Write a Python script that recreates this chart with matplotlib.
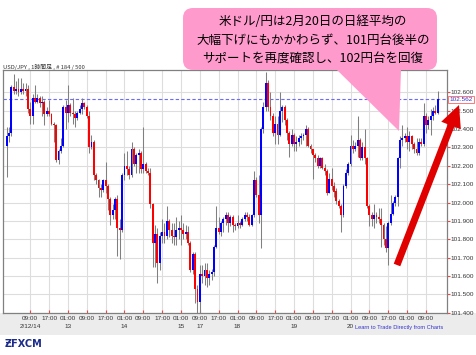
import matplotlib
matplotlib.use("Agg")
import matplotlib.pyplot as plt
import matplotlib.patches as mpatches
from matplotlib.transforms import blended_transform_factory
import numpy as np

# ---------------- data (1-hour USD/JPY candles, 184 bars) ----------------
opens = [102.31, 102.36, 102.38, 102.63, 102.61, 102.62, 102.60, 102.62, 102.61, 102.62,
         102.51, 102.47, 102.57, 102.55, 102.57, 102.54, 102.55, 102.48, 102.50, 102.48,
         102.43, 102.42, 102.23, 102.28, 102.31, 102.52, 102.49, 102.53, 102.49, 102.48,
         102.46, 102.49, 102.51, 102.54, 102.52, 102.47, 102.30, 102.33, 102.15, 102.12,
         102.08, 102.07, 102.12, 102.09, 102.02, 101.93, 101.96, 102.02, 101.86, 101.85,
         102.15, 102.20, 102.18, 102.15, 102.29, 102.21, 102.26, 102.27, 102.18, 102.21,
         102.17, 102.16, 101.99, 101.78, 101.83, 101.67, 101.82, 101.84, 101.82, 101.90,
         101.85, 101.82, 101.81, 101.85, 101.86, 101.85, 101.83, 101.84, 101.78, 101.63,
         101.72, 101.53, 101.46, 101.61, 101.60, 101.63, 101.59, 101.61, 101.62, 101.76,
         101.86, 101.84, 101.89, 101.91, 101.93, 101.89, 101.92, 101.88, 101.87, 101.89,
         101.88, 101.91, 101.93, 101.92, 101.88, 101.93, 102.12, 102.04, 101.93, 102.40,
         102.52, 102.65, 102.52, 102.47, 102.38, 102.43, 102.37, 102.50, 102.52, 102.45,
         102.38, 102.32, 102.37, 102.32, 102.33, 102.35, 102.36, 102.37, 102.40, 102.31,
         102.29, 102.26, 102.24, 102.20, 102.24, 102.19, 102.17, 102.05, 102.13, 102.09,
         102.06, 102.01, 101.98, 101.93, 102.09, 102.16, 102.21, 102.31, 102.29, 102.31,
         102.34, 102.24, 102.30, 102.24, 101.98, 101.93, 101.91, 101.93, 101.92, 101.91,
         101.88, 101.80, 101.75, 101.89, 101.94, 102.00, 102.03, 102.24, 102.34, 102.35,
         102.36, 102.33, 102.36, 102.32, 102.29, 102.27, 102.33, 102.32, 102.47, 102.42,
         102.45, 102.47, 102.50, 102.49]
closes = [102.36, 102.38, 102.63, 102.61, 102.62, 102.60, 102.62, 102.61, 102.62, 102.51,
          102.47, 102.57, 102.55, 102.57, 102.54, 102.55, 102.48, 102.50, 102.48, 102.43,
          102.42, 102.23, 102.28, 102.31, 102.52, 102.49, 102.53, 102.49, 102.48, 102.46,
          102.49, 102.51, 102.54, 102.52, 102.47, 102.30, 102.33, 102.15, 102.12, 102.08,
          102.07, 102.12, 102.09, 102.02, 101.93, 101.96, 102.02, 101.86, 101.85, 102.15,
          102.20, 102.18, 102.15, 102.29, 102.21, 102.26, 102.27, 102.18, 102.21, 102.17,
          102.16, 101.99, 101.78, 101.83, 101.67, 101.82, 101.84, 101.82, 101.90, 101.85,
          101.82, 101.81, 101.85, 101.86, 101.85, 101.83, 101.84, 101.78, 101.63, 101.72,
          101.53, 101.46, 101.61, 101.60, 101.63, 101.59, 101.61, 101.62, 101.76, 101.86,
          101.84, 101.89, 101.91, 101.93, 101.89, 101.92, 101.88, 101.87, 101.89, 101.88,
          101.91, 101.93, 101.92, 101.88, 101.93, 102.12, 102.04, 101.93, 102.40, 102.52,
          102.65, 102.52, 102.47, 102.38, 102.43, 102.37, 102.50, 102.52, 102.45, 102.38,
          102.32, 102.37, 102.32, 102.33, 102.35, 102.36, 102.37, 102.40, 102.31, 102.29,
          102.26, 102.24, 102.20, 102.24, 102.19, 102.17, 102.05, 102.13, 102.09, 102.06,
          102.01, 101.98, 101.93, 102.09, 102.16, 102.21, 102.31, 102.29, 102.31, 102.34,
          102.24, 102.30, 102.24, 101.98, 101.93, 101.91, 101.93, 101.92, 101.91, 101.88,
          101.80, 101.75, 101.89, 101.94, 102.00, 102.03, 102.24, 102.34, 102.35, 102.36,
          102.33, 102.36, 102.32, 102.29, 102.27, 102.33, 102.32, 102.47, 102.42, 102.45,
          102.47, 102.50, 102.49, 102.562]
highs = [102.41, 102.41, 102.64, 102.70, 102.66, 102.68, 102.68, 102.65, 102.65, 102.64,
         102.55, 102.59, 102.64, 102.59, 102.58, 102.58, 102.56, 102.52, 102.56, 102.49,
         102.44, 102.43, 102.29, 102.35, 102.53, 102.56, 102.64, 102.54, 102.57, 102.50,
         102.50, 102.53, 102.57, 102.55, 102.53, 102.50, 102.37, 102.34, 102.16, 102.13,
         102.10, 102.13, 102.22, 102.10, 102.03, 101.99, 102.03, 102.04, 101.91, 102.16,
         102.27, 102.28, 102.20, 102.33, 102.30, 102.27, 102.29, 102.28, 102.41, 102.22,
         102.19, 102.19, 102.00, 101.88, 101.86, 101.84, 101.91, 101.89, 101.98, 101.91,
         101.89, 101.89, 101.92, 101.90, 101.93, 101.89, 101.88, 101.87, 101.79, 101.73,
         101.73, 101.55, 101.66, 101.66, 101.67, 101.67, 101.63, 101.64, 101.77, 101.98,
         101.92, 101.90, 101.92, 101.95, 101.95, 101.93, 101.93, 101.89, 101.93, 101.90,
         101.92, 101.95, 101.95, 101.94, 101.94, 102.17, 102.14, 102.15, 102.41, 102.55,
         102.71, 102.67, 102.60, 102.49, 102.47, 102.47, 102.60, 102.53, 102.53, 102.46,
         102.39, 102.40, 102.38, 102.36, 102.37, 102.38, 102.38, 102.42, 102.41, 102.32,
         102.29, 102.27, 102.26, 102.25, 102.25, 102.21, 102.18, 102.16, 102.19, 102.11,
         102.08, 102.02, 101.99, 102.10, 102.18, 102.22, 102.37, 102.34, 102.33, 102.47,
         102.35, 102.33, 102.40, 102.25, 101.99, 101.95, 101.99, 101.95, 101.97, 101.97,
         101.89, 101.87, 101.90, 102.04, 102.01, 102.04, 102.25, 102.36, 102.42, 102.38,
         102.41, 102.39, 102.37, 102.33, 102.35, 102.35, 102.35, 102.54, 102.49, 102.47,
         102.51, 102.52, 102.53, 102.605]
lows = [102.14, 102.33, 102.36, 102.59, 102.59, 102.58, 102.59, 102.59, 102.58, 102.49,
        102.43, 102.43, 102.54, 102.54, 102.52, 102.47, 102.42, 102.47, 102.47, 102.42,
        102.33, 102.22, 102.21, 102.27, 102.30, 102.40, 102.44, 102.47, 102.43, 102.41,
        102.45, 102.48, 102.48, 102.51, 102.46, 102.27, 102.29, 102.12, 102.10, 102.03,
        102.03, 102.06, 102.05, 101.96, 101.88, 101.91, 101.91, 101.71, 101.69, 101.84,
        102.12, 102.15, 102.13, 102.14, 102.20, 102.16, 102.16, 102.16, 102.16, 102.16,
        102.15, 101.97, 101.65, 101.65, 101.56, 101.63, 101.78, 101.78, 101.80, 101.81,
        101.78, 101.77, 101.77, 101.80, 101.77, 101.80, 101.80, 101.77, 101.62, 101.61,
        101.45, 101.40, 101.40, 101.56, 101.55, 101.54, 101.55, 101.58, 101.60, 101.75,
        101.83, 101.82, 101.84, 101.88, 101.84, 101.87, 101.84, 101.85, 101.86, 101.86,
        101.87, 101.90, 101.90, 101.87, 101.87, 101.92, 102.03, 101.89, 101.75, 102.38,
        102.50, 102.50, 102.45, 102.36, 102.32, 102.32, 102.36, 102.44, 102.42, 102.34,
        102.25, 102.31, 102.28, 102.28, 102.31, 102.32, 102.34, 102.31, 102.30, 102.27,
        102.13, 102.22, 102.19, 102.19, 102.18, 102.15, 102.04, 102.05, 102.07, 102.03,
        101.99, 101.97, 101.84, 101.92, 102.08, 102.15, 102.20, 102.27, 102.28, 102.25,
        102.23, 102.23, 102.21, 101.97, 101.87, 101.87, 101.86, 101.89, 101.89, 101.76,
        101.77, 101.73, 101.66, 101.88, 101.93, 101.98, 101.98, 102.19, 102.31, 102.33,
        102.29, 102.28, 102.29, 102.27, 102.26, 102.26, 102.31, 102.31, 102.38, 102.40,
        102.37, 102.45, 102.48, 102.48]

tick_bars = [10, 18, 26, 34, 42, 50, 58, 66, 74, 82, 90, 98, 106, 114, 122, 130, 138,
             146, 154, 162, 170, 178]
time_labels = ["09:00", "17:00", "01:00", "09:00", "17:00", "01:00", "09:00", "17:00",
               "01:00", "09:00", "17:00", "01:00", "09:00", "17:00", "01:00", "09:00",
               "17:00", "01:00", "09:00", "17:00", "01:00", "09:00"]
date_labels = ["2/12/14", "", "13", "", "", "14", "", "", "15", "17", "", "18", "", "",
               "19", "", "", "20", "", "", "", ""]
price_ticks = [101.4, 101.5, 101.6, 101.7, 101.8, 101.9, 102.0, 102.1, 102.2, 102.3,
               102.4, 102.5, 102.6]
last_price = 102.562

header = "USD/JPY , 1時間足 , # 184 / 500"
callout_lines = ["米ドル/円は2月20日の日経平均の",
                 "大幅下げにもかかわらず、101円台後半の",
                 "サポートを再度確認し、102円台を回復"]
link_text = "Learn to Trade Directly from Charts"

# ---------------- figure ----------------
W, H = 477, 355
fig = plt.figure(figsize=(W / 100, H / 100), dpi=100)
fig.patch.set_facecolor("white")

# gray band under the plot
fig.add_artist(mpatches.Rectangle((0, 1 - 335 / H), 1, 22 / H, transform=fig.transFigure,
                                  facecolor="#ECECEC", edgecolor="none", zorder=0))

ax = fig.add_axes([3 / W, 1 - 313 / H, 444 / W, 243 / H])
ax.set_facecolor("white")

o = np.array(opens); c = np.array(closes); hi = np.array(highs); lo = np.array(lows)
idx = np.arange(len(o))
up = c >= o
ax.vlines(idx, lo, hi, color="#808080", lw=0.75, zorder=3)
body_bottom = np.minimum(o, c)
body_h = np.maximum(np.abs(c - o), 0.004)
ax.bar(idx[up], body_h[up], bottom=body_bottom[up], width=0.8, color="#0000FF",
       linewidth=0, zorder=4)
ax.bar(idx[~up], body_h[~up], bottom=body_bottom[~up], width=0.8, color="#FF0000",
       linewidth=0, zorder=4)

ax.set_xlim(-1.57, 186.95)
ax.set_ylim(101.398, 102.722)

# grid
for t in tick_bars:
    ax.axvline(t, color="#DDDDDD", lw=0.8, zorder=1)
for p in price_ticks:
    ax.axhline(p, color="#DDDDDD", lw=0.8, zorder=1)

ax.axhline(last_price, color="#6A6AFF", lw=0.8, ls=(0, (3, 2)), zorder=2)

for s in ax.spines.values():
    s.set_color("#808080")
    s.set_linewidth(0.9)

ax.yaxis.tick_right()
ax.set_yticks(price_ticks)
ax.set_yticklabels([f"{p:.3f}" for p in price_ticks], fontfamily="Liberation Sans")
ax.tick_params(axis="y", length=2, color="#FF4040", pad=0.8, labelsize=4.6,
               labelcolor="#333333")
ax.set_xticks(tick_bars)
ax.set_xticklabels([])
ax.tick_params(axis="x", length=2, color="#FF4040", direction="in")

tr = blended_transform_factory(ax.transData, ax.transAxes)
for t, tl, dl in zip(tick_bars, time_labels, date_labels):
    ax.text(t, -0.0218, tl, transform=tr, ha="center", va="center", fontsize=4.6,
            fontfamily="Liberation Sans", color="#333333", clip_on=False)
    if dl:
        ax.text(t, -0.0564, dl, transform=tr, ha="center", va="center", fontsize=4.6,
                fontfamily="Liberation Sans", color="#333333", clip_on=False)

# ---------------- overlay in pixel coordinates ----------------
ov = fig.add_axes([0, 0, 1, 1], zorder=5)
ov.set_xlim(0, W)
ov.set_ylim(H, 0)
ov.axis("off")
ov.patch.set_alpha(0)

ov.text(3, 66.5, header, fontsize=4.2, fontfamily=["Noto Sans CJK JP", "DejaVu Sans"],
        color="#333333", va="center", ha="left")

# price box
ov.text(449.5, 99.5, f"{last_price:.3f}", fontsize=4.6, fontfamily="Liberation Sans",
        color="#3030D0", va="center", ha="left",
        bbox=dict(boxstyle="square,pad=0.2", fc="white", ec="#FF6060", lw=0.6))

# callout
pink = "#FF9ACD"
box = mpatches.FancyBboxPatch((186, 11), 248, 56, boxstyle="round,pad=3,rounding_size=10",
                              facecolor=pink, edgecolor="none")
ov.add_patch(box)
tri = mpatches.Polygon([(336, 69), (401, 69), (399, 131)], closed=True, facecolor=pink,
                       edgecolor="none")
ov.add_patch(tri)
for yy, line in zip([21.5, 40.5, 59.5], callout_lines):
    ov.text(313, yy, line, fontsize=9.0, fontfamily=["Noto Sans CJK JP", "DejaVu Sans"],
            color="black", ha="center", va="center")

# red arrow
arr = mpatches.FancyArrow(397, 265, 62, -160, width=7, head_width=21, head_length=22,
                          length_includes_head=True, facecolor="#E00000", edgecolor="none")
ov.add_patch(arr)

# footer
ov.text(355, 327.5, link_text, fontsize=4.1, fontfamily="Liberation Sans", color="#3333CC",
        ha="left", va="center")
ov.text(5, 344, "ƵFXCM", fontsize=7, fontweight="bold", fontfamily="DejaVu Sans",
        color="#1C2C8C", ha="left", va="center")

fig.savefig("out.png", dpi=100, facecolor=fig.get_facecolor())
